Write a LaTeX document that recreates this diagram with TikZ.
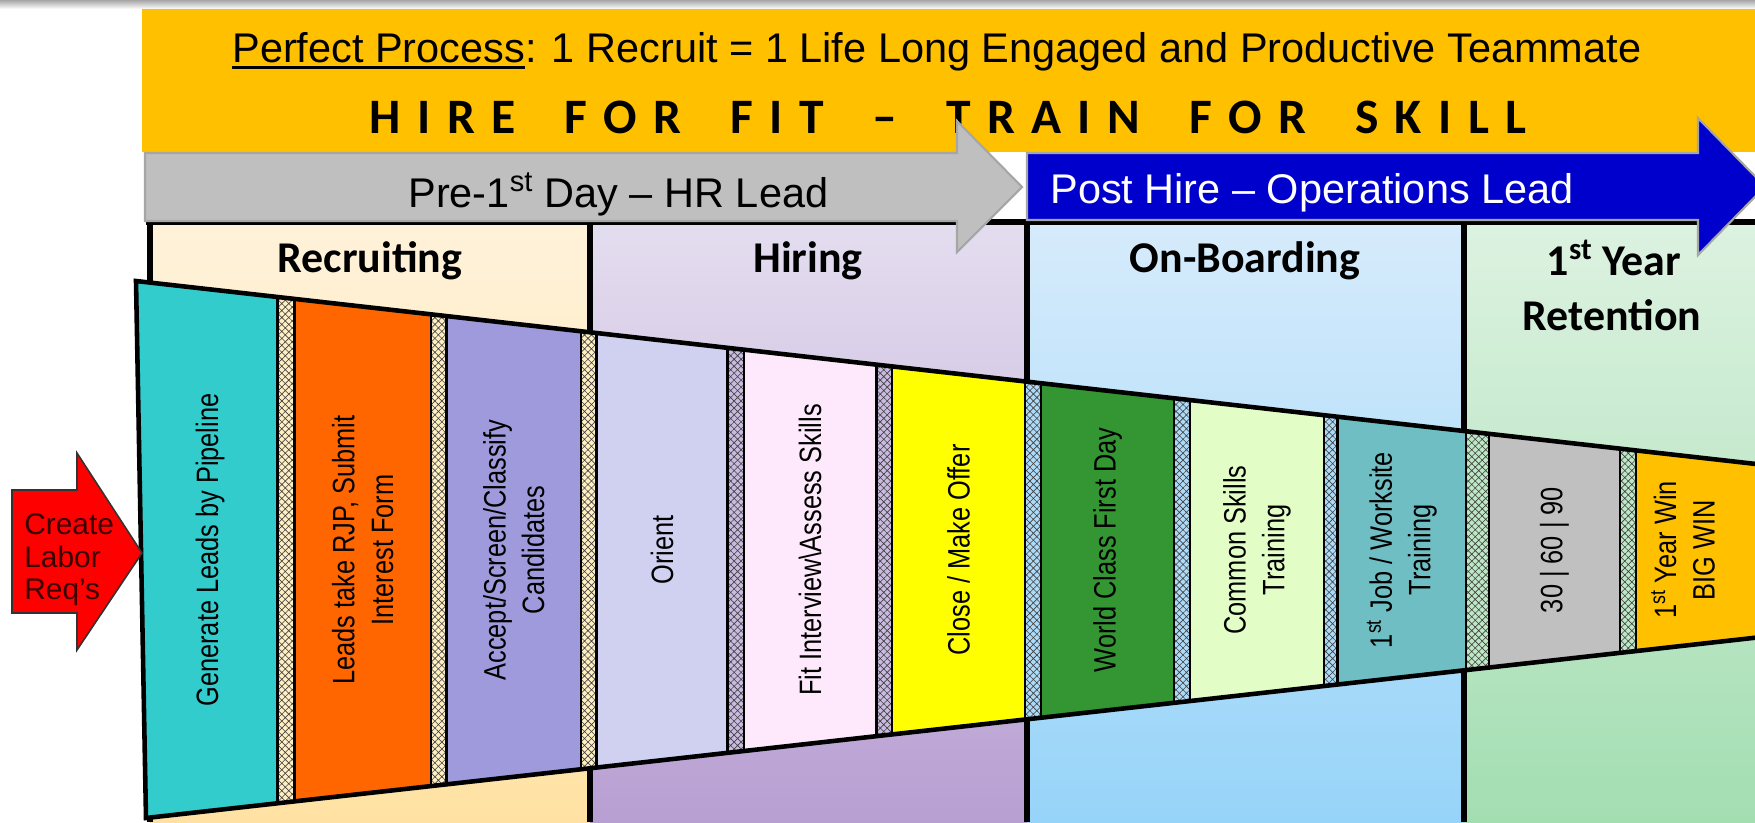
\documentclass[tikz,border=0pt]{standalone}
\usepackage{fontspec}
\setmainfont{Liberation Sans}
\newfontfamily\narrowfont[FakeStretch=0.82]{Liberation Sans}
\newfontfamily\calibri{Carlito}
\usetikzlibrary{patterns.meta}

\definecolor{hdryellow}{HTML}{FFC000}
\definecolor{arrowgray}{HTML}{BFBFBF}
\definecolor{arrowblue}{HTML}{0000CC}
\definecolor{recA}{HTML}{FFF2DA}
\definecolor{recB}{HTML}{FFE2A3}
\definecolor{hirA}{HTML}{E4DDEF}
\definecolor{hirB}{HTML}{B89FD2}
\definecolor{onbA}{HTML}{D6EBFB}
\definecolor{onbB}{HTML}{97D4F9}
\definecolor{retA}{HTML}{DDF2E1}
\definecolor{retB}{HTML}{A3DEB1}
\definecolor{recH}{HTML}{FFEFC2}
\definecolor{hirH}{HTML}{C9BAE0}
\definecolor{onbH}{HTML}{ADDAF7}
\definecolor{retH}{HTML}{BEE7C5}
\definecolor{leadteal}{HTML}{33CCCC}
\definecolor{rjporange}{HTML}{FF6600}
\definecolor{screenblue}{HTML}{9E9ADC}
\definecolor{orientlav}{HTML}{D0D0F0}
\definecolor{fitpink}{HTML}{FDE9FB}
\definecolor{offeryellow}{HTML}{FFFF00}
\definecolor{firstgreen}{HTML}{349632}
\definecolor{skilllime}{HTML}{E3FDC6}
\definecolor{jobteal}{HTML}{6FBEC3}
\definecolor{ninetygray}{HTML}{C0C0C0}
\definecolor{reqtext}{HTML}{3A0000}

\newcommand{\wgap}{\hspace{0.99em}}
\newcommand{\slogfont}{\calibri\bfseries\fontsize{28.2}{32}\selectfont\spaceskip=0.33em\relax}
\newcommand{\ulbar}[1]{\setbox0=\hbox{#1}\rlap{\rule[-4.2pt]{\wd0}{1.8pt}}\box0}

\begin{document}
\begin{tikzpicture}[x=0.2mm, y=-0.2mm,
  lbl/.style={font=\narrowfont\fontsize{17.6}{22}\selectfont, rotate=90, align=center, inner sep=0pt},
  hdr/.style={font=\calibri\bfseries\fontsize{25}{30}\selectfont, anchor=base, inner sep=0pt},
  lead/.style={font=\fontsize{23.6}{28}\selectfont, anchor=base west, inner sep=0pt},
  req/.style={font=\fontsize{17}{19}\selectfont, anchor=base west, inner sep=0pt, text=reqtext},
  wall/.style={line width=3.2pt},
  seam/.style={line width=1.5pt},
  xhatch/.style={pattern={Hatch[angle=45,distance=2.8pt,line width=0.35pt]}, pattern color=black!75}]
\useasboundingbox (0,0) rectangle (1755,822);
\shade[top color=black!35, bottom color=white] (0,0) rectangle (1755,9);
\fill[hdryellow] (142,9) rectangle (1755,152);

\shade[top color=recA, bottom color=recB] (150,222) rectangle (590,822);
\shade[top color=hirA, bottom color=hirB] (590,222) rectangle (1027,822);
\shade[top color=onbA, bottom color=onbB] (1027,222) rectangle (1464,822);
\shade[top color=retA, bottom color=retB] (1464,222) rectangle (1755,822);
\draw[wall] (146,222) -- (1755,222);
\draw[wall] (150,222) -- (150,822) (590,222) -- (590,822) (1027,222) -- (1027,822) (1464,222) -- (1464,822);

\node[lead] at (232,62) (motto) {\ulbar{Perfect Process}: 1 Recruit = 1 Life Long Engaged and Productive Teammate};
\node[font=\slogfont, anchor=base, inner sep=0pt] at (948,133) (slogan) {H I R E\wgap F O R\wgap F I T\wgap –\wgap T R A I N\wgap F O R\wgap S K I L L};

\filldraw[fill=arrowgray, draw=black!35, line width=1.2pt] (145,153) -- (957,153) -- (957,121) -- (1022,187) -- (957,252) -- (957,221) -- (145,221) -- cycle;
\filldraw[fill=arrowblue, draw=black!35, line width=1.2pt] (1027,153) -- (1698,153) -- (1698,118) -- (1765,186.5) -- (1698,255) -- (1698,220) -- (1027,220) -- cycle;
\node[lead] at (408,207) (pre) {Pre-1\textsuperscript{st} Day – HR Lead};
\node[lead, text=white] at (1050,203) (post) {Post Hire – Operations Lead};

\node[hdr] at (370,272) (hrec) {Recruiting};
\node[hdr] at (808,272) (hhir) {Hiring};
\node[hdr] at (1245,272) (hon) {On-Boarding};
\node[hdr] at (1614,275) (hret) {1\textsuperscript{st} Year};
\node[hdr] at (1612,330) (hret2) {Retention};

\begin{scope}
\clip (136,281) -- (1765,465) -- (1765,636.6) -- (146,818) -- cycle;
\fill[leadteal] (130,250) rectangle (277.6,830);
\fill[recH] (277.6,250) rectangle (294.4,830);
\fill[rjporange] (294.4,250) rectangle (431,830);
\fill[recH] (431,250) rectangle (446.6,830);
\fill[screenblue] (446.6,250) rectangle (581,830);
\fill[recH] (581,250) rectangle (596.6,830);
\fill[orientlav] (596.6,250) rectangle (727.5,830);
\fill[hirH] (727.5,250) rectangle (744,830);
\fill[fitpink] (744,250) rectangle (876.4,830);
\fill[hirH] (876.4,250) rectangle (892,830);
\fill[offeryellow] (892,250) rectangle (1025,830);
\fill[onbH] (1025,250) rectangle (1041,830);
\fill[firstgreen] (1041,250) rectangle (1174,830);
\fill[onbH] (1174,250) rectangle (1190,830);
\fill[skilllime] (1190,250) rectangle (1324,830);
\fill[onbH] (1324,250) rectangle (1337.5,830);
\fill[jobteal] (1337.5,250) rectangle (1466,830);
\fill[retH] (1466,250) rectangle (1489,830);
\fill[ninetygray] (1489,250) rectangle (1620,830);
\fill[retH] (1620,250) rectangle (1636,830);
\fill[hdryellow] (1636,250) rectangle (1770,830);
\fill[xhatch] (277.6,250) rectangle (294.4,830) (431,250) rectangle (446.6,830) (581,250) rectangle (596.6,830) (727.5,250) rectangle (744,830) (876.4,250) rectangle (892,830) (1025,250) rectangle (1041,830) (1174,250) rectangle (1190,830) (1324,250) rectangle (1337.5,830) (1466,250) rectangle (1489,830) (1620,250) rectangle (1636,830);
\draw[seam] (277.6,250) -- ++(0,600) (294.4,250) -- ++(0,600) (431,250) -- ++(0,600) (446.6,250) -- ++(0,600) (581,250) -- ++(0,600) (596.6,250) -- ++(0,600) (727.5,250) -- ++(0,600) (744,250) -- ++(0,600) (876.4,250) -- ++(0,600) (892,250) -- ++(0,600);
\draw[seam] (1025,250) -- ++(0,600) (1041,250) -- ++(0,600) (1174,250) -- ++(0,600) (1190,250) -- ++(0,600) (1324,250) -- ++(0,600) (1337.5,250) -- ++(0,600) (1466,250) -- ++(0,600) (1489,250) -- ++(0,600) (1620,250) -- ++(0,600) (1636,250) -- ++(0,600);
\end{scope}
\draw[line width=2.6pt, line join=miter] (1765,465) -- (136,281) -- (146,818) -- (1765,636.6);

\node[lbl] at (210,550) (l1) {Generate Leads by Pipeline};
\node[lbl] at (362.7,550) (l2) {Leads take RJP, Submit\\Interest Form};
\node[lbl] at (513.8,550) (l3) {Accept/Screen/Classify\\Candidates};
\node[lbl] at (662,550) (l4) {Orient};
\node[lbl] at (810,550) (l5) {Fit Interview\textbackslash Assess Skills};
\node[lbl] at (958.5,550) (l6) {Close / Make Offer};
\node[lbl] at (1107.5,550) (l7) {World Class First Day};
\node[lbl] at (1257,550) (l8) {Common Skills\\Training};
\node[lbl] at (1401.8,550) (l9) {1\textsuperscript{st} Job / Worksite\\Training};
\node[lbl] at (1554.5,550) (l10) {30 | 60 | 90};
\node[lbl] at (1683,550) (l11) {1\textsuperscript{st} Year Win\\BIG WIN};

\filldraw[fill=red, draw=black!80, line width=0.9pt] (12,490) -- (77,490) -- (77,453) -- (142,553) -- (77,650) -- (77,613) -- (12,613) -- cycle;
\node[req] at (24,534) (rq1) {Create};
\node[req] at (24,567) (rq2) {Labor};
\node[req] at (24,599) (rq3) {Req’s};
\end{tikzpicture}
\end{document}
